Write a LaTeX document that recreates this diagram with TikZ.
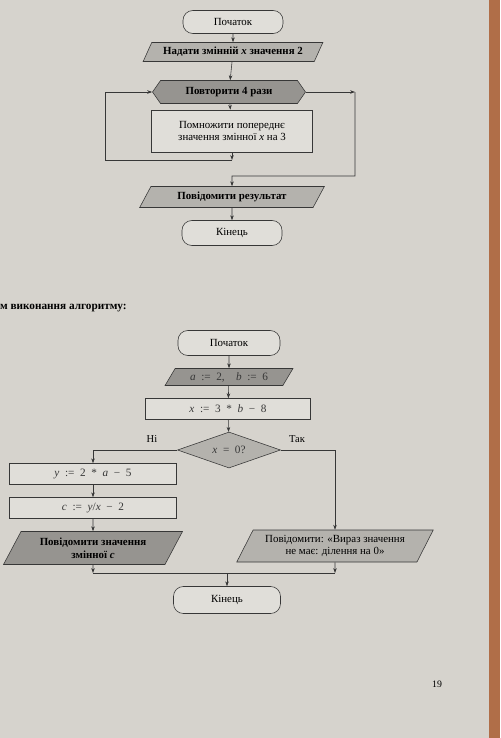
\documentclass[tikz,border=0pt]{standalone}
\usepackage{fontspec}
\setmainfont{Liberation Serif}
\usepackage{xcolor}
\usetikzlibrary{shapes.geometric}
\usetikzlibrary{shapes.symbols}
\usetikzlibrary{arrows.meta}
\usetikzlibrary{positioning}

\definecolor{paper}{RGB}{214,211,205}
\definecolor{boxfill}{RGB}{224,222,217}
\definecolor{greyfill}{RGB}{180,178,173}
\definecolor{darkfill}{RGB}{150,148,144}
\definecolor{wood}{RGB}{176,110,72}
\definecolor{ink}{RGB}{55,55,55}

\begin{document}
\begin{tikzpicture}[
  x=0.05cm, y=-0.05cm,
  every node/.style={font=\fontsize{15.5}{18}\selectfont, align=center},
  line/.style={line width=0.8pt, draw=ink},
  term/.style={line, rounded corners=14pt, fill=boxfill, minimum height=1.2cm},
  act/.style={line, rectangle, fill=boxfill},
  io/.style={line, trapezium, trapezium left angle=62, trapezium right angle=118,
    trapezium stretches=true, inner xsep=2pt},
  loophex/.style={line, signal, signal to=west and east, signal pointer angle=110,
    fill=darkfill},
  cond/.style={line, diamond, fill=greyfill, aspect=2.8},
  formula/.style={font=\fontsize{16}{18}\selectfont, text=ink},
  lbl/.style={font=\fontsize{15}{17}\selectfont},
]
\tikzset{>={Stealth[length=7pt, width=5pt]}}

% Page
\fill[paper] (0,0) rectangle (500,738);
\fill[wood] (489,0) rectangle (500,738);
\useasboundingbox (0,0) rectangle (500,738);

% Nodes - first flowchart
\node[term, minimum width=5cm, minimum height=1.15cm] (start1) at (233,22) {Початок};
\node[io, fill=greyfill, minimum width=9cm, minimum height=0.95cm] (set1) at (233,52)
  {\bfseries Надати змінній \textit{x} значення 2};
\node[loophex, minimum width=7.65cm, minimum height=1.15cm] (loop1) at (229,92)
  {\bfseries Повторити 4 рази};
\node[act, minimum width=8.05cm, minimum height=2.1cm] (body1) at (232,131)
  {Помножити попереднє\\значення змінної \textit{x} на 3};
\node[io, fill=greyfill, minimum width=9.25cm, minimum height=1.05cm] (out1) at (232,197)
  {\bfseries Повідомити результат};
\node[term, minimum width=5cm, minimum height=1.25cm] (end1) at (232,233) {Кінець};

\coordinate (c1) at (232,160);
\coordinate (l1) at (105,92);
\coordinate (r1) at (355,92);
\coordinate (m1) at (232,176);

% Edges - first flowchart
\draw[line, ->] (start1) -- (set1);
\draw[line, ->] (set1) -- (loop1);
\draw[line, ->] (loop1) -- (body1);
\draw[line, ->] (body1) -- (c1);
\draw[line, ->] (c1) -| (l1) -- (loop1.west);
\draw[line, ->] (loop1.east) -- (r1);
\draw[line, ->] (r1) |- (m1) -- (out1);
\draw[line, ->] (out1) -- (end1);

% Caption text
\node[anchor=base west, inner sep=0pt, font=\fontsize{16}{18}\selectfont\bfseries] (cap) at (0,309)
  {м виконання алгоритму:};

% Nodes - second flowchart
\node[term, minimum width=5.1cm, minimum height=1.25cm] (start2) at (229,343) {Початок};
\node[io, formula, fill=darkfill, minimum width=6.4cm, minimum height=0.85cm] (in2) at (229,377)
  {\textit{a}\enskip:=\enskip2,\quad\textit{b}\enskip:=\enskip6};
\node[act, formula, minimum width=8.25cm, minimum height=1.05cm] (calc2) at (228,409)
  {\textit{x}\enskip:=\enskip3\enskip*\enskip\textit{b}\enskip−\enskip8};
\node[cond, formula, minimum width=5.15cm, minimum height=1.8cm, inner sep=0pt] (test2) at (229,450)
  {\textit{x}\enskip=\enskip0?};
\node[act, formula, minimum width=8.35cm, minimum height=1.05cm] (ya) at (93,474)
  {\textit{y}\enskip:=\enskip2\enskip*\enskip\textit{a}\enskip−\enskip5};
\node[act, formula, minimum width=8.35cm, minimum height=1.05cm] (cb) at (93,508)
  {\textit{c}\enskip:=\enskip\textit{y}/\textit{x}\enskip−\enskip2};
\node[io, fill=darkfill, minimum width=8.95cm, minimum height=1.65cm] (outc) at (93,548)
  {\bfseries Повідомити значення\\\bfseries змінної \textit{c}};
\node[io, fill=greyfill, minimum width=9.85cm, minimum height=1.6cm] (outerr) at (335,546)
  {Повідомити: «Вираз значення\\не має: ділення на 0»};
\node[term, minimum width=5.35cm, minimum height=1.35cm] (end2) at (227,600) {Кінець};

\node[lbl] (no) at (152,439) {Ні};
\node[lbl] (yes) at (297,439) {Так};

\coordinate (j1) at (93,573);
\coordinate (j2) at (335,573);
\coordinate (j3) at (227,573);

% Edges - second flowchart
\draw[line, ->] (start2) -- (in2);
\draw[line, ->] (in2) -- (calc2);
\draw[line, ->] (calc2) -- (test2);
\draw[line, ->] (test2.west) -| (ya.north);
\draw[line, ->] (ya) -- (cb);
\draw[line, ->] (cb) -- (outc);
\draw[line, ->] (test2.east) -| (outerr.north);
\draw[line, ->] (outc.south) -- (j1);
\draw[line, ->] (outerr.south) -- (j2);
\draw[line] (j1) -- (j2);
\draw[line, ->] (j3) -- (end2);

% Page number
\node[font=\fontsize{14}{16}\selectfont] (pg) at (437,684) {19};

\end{tikzpicture}
\end{document}
